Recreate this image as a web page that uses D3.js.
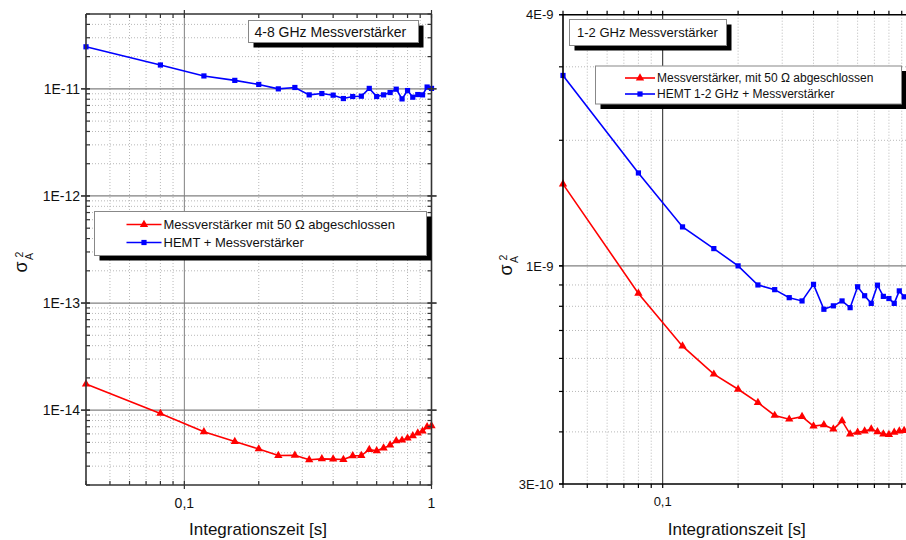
<!DOCTYPE html>
<html><head><meta charset="utf-8">
<script src="https://cdn.jsdelivr.net/npm/d3@7"></script>
<style>
body{margin:0;background:#fff}
svg{display:block;font-family:"Liberation Sans",Arial,sans-serif}
</style>
</head><body>
<svg id="chart" width="906" height="540"></svg>
<script>
// ---- data ----
const times = [0.04,0.08,0.12,0.16,0.20,0.24,0.28,0.32,0.36,0.40,0.44,0.48,0.52,0.56,0.60,0.64,0.68,0.72,0.76,0.80,0.84,0.88,0.92,0.96,1.00];

const leftRed = [1.75e-14,9.31e-15,6.27e-15,5.09e-15,4.34e-15,3.77e-15,3.79e-15,3.44e-15,3.51e-15,3.49e-15,3.46e-15,3.74e-15,3.77e-15,4.29e-15,4.17e-15,4.42e-15,4.71e-15,5.17e-15,5.24e-15,5.47e-15,5.75e-15,6.10e-15,6.36e-15,6.98e-15,7.13e-15];
const leftBlue = [2.47e-11,1.67e-11,1.32e-11,1.20e-11,1.10e-11,1.00e-11,1.03e-11,8.79e-12,9.04e-12,8.73e-12,8.12e-12,8.48e-12,8.54e-12,1.01e-11,8.48e-12,8.79e-12,9.24e-12,9.93e-12,8.06e-12,9.64e-12,8.36e-12,8.85e-12,8.79e-12,1.04e-11,1.01e-11];

const rightRed = [1.57e-9,8.59e-10,6.42e-10,5.50e-10,5.06e-10,4.70e-10,4.38e-10,4.29e-10,4.35e-10,4.13e-10,4.16e-10,4.06e-10,4.25e-10,3.95e-10,3.99e-10,4.02e-10,4.06e-10,4.00e-10,3.95e-10,3.94e-10,3.99e-10,4.02e-10,4.03e-10,4.04e-10,4.05e-10];
const rightBlue = [2.86e-9,1.67e-9,1.24e-9,1.10e-9,1.00e-9,9.00e-10,8.77e-10,8.39e-10,8.24e-10,9.03e-10,7.87e-10,8.02e-10,8.24e-10,7.94e-10,8.91e-10,8.48e-10,8.13e-10,8.99e-10,8.45e-10,8.35e-10,8.13e-10,8.71e-10,8.43e-10,8.30e-10,8.60e-10];

const xDomain = [0.04, 1];
const xTickValues = [0.1, 1];
const xTickLabels = ["0,1", "1"];

const leftYDomain = [2e-15, 5e-11];
const leftYTickValues = [1e-11, 1e-12, 1e-13, 1e-14];
const leftYTickLabels = ["1E-11", "1E-12", "1E-13", "1E-14"];

const rightYDomain = [3e-10, 4e-9];
const rightYTickValues = [4e-9, 1e-9, 3e-10];
const rightYTickLabels = ["4E-9", "1E-9", "3E-10"];

const leftTitle = "4-8 GHz Messverstärker";
const rightTitle = "1-2 GHz Messverstärker";
const leftLegend = ["Messverstärker mit 50 Ω abgeschlossen", "HEMT + Messverstärker"];
const rightLegend = ["Messverstärker, mit 50 Ω abgeschlossen", "HEMT 1-2 GHz + Messverstärker"];
const xTitle = "Integrationszeit [s]";

const RED = "#ff0000", BLUE = "#0000ff";
const W = 906;
const svg = d3.select("#chart");

function isPow10(v){ const l = Math.log10(v); return Math.abs(l - Math.round(l)) < 1e-6; }

function triangle(g, cx, cy, color){
  g.append("path").attr("d", d3.symbol(d3.symbolTriangle, 30)()).attr("transform", `translate(${cx},${cy})`).attr("fill", color);
}
function square(g, cx, cy, color){
  g.append("rect").attr("x", cx-2.6).attr("y", cy-2.6).attr("width", 5.2).attr("height", 5.2).attr("fill", color);
}

function panel(o){
  const x = d3.scaleLog().domain(xDomain).range([o.x0, o.x1]);
  const y = d3.scaleLog().domain(o.yDomain).range([o.y1, o.y0]);
  const g = svg.append("g");
  const xs = x.ticks().filter(v => v > xDomain[0]*1.001 && v < xDomain[1]*0.999);
  const ys = y.ticks().filter(v => v > o.yDomain[0]*1.001 && v < o.yDomain[1]*0.999);

  // minor grid
  xs.filter(v => !isPow10(v)).forEach(v => {
    g.append("line").attr("x1", x(v)).attr("x2", x(v)).attr("y1", o.y0).attr("y2", o.y1)
      .attr("stroke", "#b8b8b8").attr("stroke-width", 1).attr("stroke-dasharray", "1,2");
  });
  ys.filter(v => !isPow10(v)).forEach(v => {
    g.append("line").attr("x1", o.x0).attr("x2", o.x1).attr("y1", y(v)).attr("y2", y(v))
      .attr("stroke", "#b8b8b8").attr("stroke-width", 1).attr("stroke-dasharray", "1,2");
  });
  // major grid
  xs.filter(isPow10).forEach(v => {
    g.append("line").attr("x1", x(v)).attr("x2", x(v)).attr("y1", o.y0).attr("y2", o.y1)
      .attr("stroke", o.vMajorColor).attr("stroke-width", 1);
  });
  ys.filter(isPow10).forEach(v => {
    g.append("line").attr("x1", o.x0).attr("x2", o.x1).attr("y1", y(v)).attr("y2", y(v))
      .attr("stroke", "#808080").attr("stroke-width", 1.2);
  });

  // series
  o.series.forEach(s => {
    const pts = times.map((t, i) => [x(t), y(s.values[i])]);
    g.append("path").attr("d", d3.line()(pts)).attr("fill", "none")
      .attr("stroke", s.color).attr("stroke-width", 1.6);
    pts.forEach(p => s.marker(g, p[0], p[1], s.color));
  });

  // frame
  const ac = o.axisColor;
  g.append("line").attr("x1", o.x0).attr("x2", o.x0).attr("y1", o.y0).attr("y2", o.y1).attr("stroke", ac).attr("stroke-width", 1.6);
  g.append("line").attr("x1", o.x0).attr("x2", o.x1).attr("y1", o.y1).attr("y2", o.y1).attr("stroke", ac).attr("stroke-width", 1.6);
  g.append("line").attr("x1", o.x0).attr("x2", o.x1).attr("y1", o.y0).attr("y2", o.y0).attr("stroke", ac).attr("stroke-width", 1.6);
  if (o.rightAxis) g.append("line").attr("x1", o.x1).attr("x2", o.x1).attr("y1", o.y0).attr("y2", o.y1).attr("stroke", ac).attr("stroke-width", 1.6);

  // ticks
  const allX = x.ticks().filter(v => v >= xDomain[0]*0.999 && v <= xDomain[1]*1.001);
  const allY = y.ticks().concat(o.yTickValues);
  const tk = (x1,y1,x2,y2) => g.append("line").attr("x1",x1).attr("y1",y1).attr("x2",x2).attr("y2",y2).attr("stroke", ac).attr("stroke-width", 1.2);
  allX.forEach(v => {
    const px = x(v), maj = isPow10(v);
    if (o.inward) {
      tk(px, o.y1 + (maj?4:0), px, o.y1 - 4);
      tk(px, o.y0 - (maj?4:0), px, o.y0 + 4);
    } else {
      tk(px, o.y1, px, o.y1 + 4);
      tk(px, o.y0, px, o.y0 - 4);
    }
  });
  allY.forEach(v => {
    const py = y(v), maj = o.yTickValues.some(t => Math.abs(t - v)/t < 1e-6);
    if (o.inward) {
      tk(o.x0 - (maj?5:0), py, o.x0 + 4, py);
      if (o.rightAxis) tk(o.x1 + (maj?5:0), py, o.x1 - 4, py);
    } else {
      tk(o.x0 - 4, py, o.x0, py);
    }
  });

  // tick labels
  o.yTickValues.forEach((v, i) => {
    g.append("text").attr("x", o.ylx).attr("y", y(v)).attr("dy", "0.36em")
      .attr("text-anchor", "end").attr("font-size", o.tickFont).attr("fill", "#111").text(o.yTickLabels[i]);
  });
  xTickValues.forEach((v, i) => {
    if (x(v) > W - 6) return; // label lies beyond the visible page edge
    g.append("text").attr("x", x(v)).attr("y", o.xly).attr("text-anchor", "middle")
      .attr("font-size", o.tickFont).attr("fill", "#111").text(xTickLabels[i]);
  });

  // axis titles
  g.append("text").attr("x", o.xtx).attr("y", 535).attr("text-anchor", "middle")
    .attr("font-size", 17).attr("fill", "#111").text(xTitle);
  const sg = g.append("g").attr("transform", `translate(${o.sig[0]},${o.sig[1]}) rotate(-90)`);
  sg.append("text").attr("x", 0).attr("y", 0).attr("text-anchor", "middle").attr("font-size", 18).attr("fill", "#111").text("σ");
  sg.append("text").attr("x", 10.5).attr("y", 6).attr("text-anchor", "middle").attr("font-size", 10.5).attr("fill", "#111").text("A");
  sg.append("text").attr("x", 12.5).attr("y", -4.5).attr("text-anchor", "middle").attr("font-size", 10.5).attr("fill", "#111").text("2");

  // title box
  const t = o.title;
  g.append("rect").attr("x", t.x + 5).attr("y", t.y + 5).attr("width", t.w).attr("height", t.h).attr("fill", "#000");
  g.append("rect").attr("x", t.x).attr("y", t.y).attr("width", t.w).attr("height", t.h).attr("fill", "#fff").attr("stroke", "#888").attr("stroke-width", 1);
  g.append("text").attr("x", t.x + t.tx).attr("y", t.y + t.ty).attr("font-size", t.fs).attr("fill", "#111").text(t.text);

  // legend
  const L = o.legend;
  g.append("rect").attr("x", L.x + 5).attr("y", L.y + 5).attr("width", L.w).attr("height", L.h).attr("fill", "#000");
  g.append("rect").attr("x", L.x).attr("y", L.y).attr("width", L.w).attr("height", L.h).attr("fill", "#fff").attr("stroke", "#888").attr("stroke-width", 1);
  o.series.forEach((s, i) => {
    const ry = L.y + L.rows[i];
    g.append("line").attr("x1", L.lx0).attr("x2", L.lx1).attr("y1", ry).attr("y2", ry).attr("stroke", s.color).attr("stroke-width", 1.6);
    s.marker(g, (L.lx0 + L.lx1)/2, ry, s.color);
    g.append("text").attr("x", L.lx1 + 2).attr("y", ry).attr("dy", "0.36em").attr("font-size", L.fs).attr("fill", "#111").text(L.labels[i]);
  });
}

panel({
  x0: 86, x1: 431.5, y0: 14, y1: 485,
  yDomain: leftYDomain, yTickValues: leftYTickValues, yTickLabels: leftYTickLabels,
  vMajorColor: "#808080", axisColor: "#333", rightAxis: true, inward: true,
  ylx: 80, xly: 507.5, tickFont: 14, xtx: 258, sig: [27, 267],
  series: [
    {values: leftRed, color: RED, marker: triangle},
    {values: leftBlue, color: BLUE, marker: square}
  ],
  title: {x: 248.5, y: 20.5, w: 170, h: 22, tx: 6, ty: 16, fs: 14, text: leftTitle},
  legend: {x: 94.5, y: 211.5, w: 332, h: 44, rows: [13, 31], lx0: 126.5, lx1: 161.5, fs: 13, labels: leftLegend}
});

panel({
  x0: 563, x1: 913.2, y0: 14.7, y1: 484,
  yDomain: rightYDomain, yTickValues: rightYTickValues, yTickLabels: rightYTickLabels,
  vMajorColor: "#222", axisColor: "#000", rightAxis: false, inward: false,
  ylx: 553.5, xly: 505.5, tickFont: 13, xtx: 736.7, sig: [511.5, 270],
  series: [
    {values: rightRed, color: RED, marker: triangle},
    {values: rightBlue, color: BLUE, marker: square}
  ],
  title: {x: 569.5, y: 19.5, w: 157, h: 26, tx: 7.5, ty: 17.5, fs: 13, text: rightTitle},
  legend: {x: 595.5, y: 66, w: 306, h: 38, rows: [12, 28], lx0: 625, lx1: 655, fs: 12, labels: rightLegend}
});
</script>
</body></html>
